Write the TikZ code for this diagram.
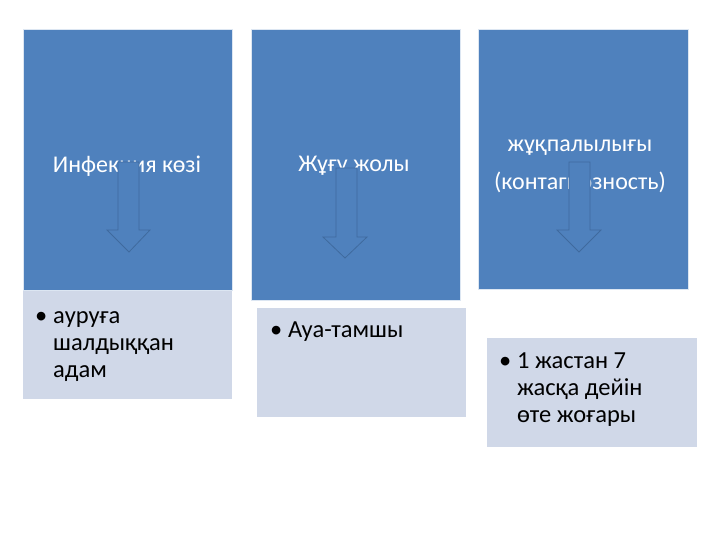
\documentclass[tikz,border=0pt]{standalone}
\usepackage{fontspec}
\setmainfont{Carlito}
\definecolor{boxblue}{HTML}{4F81BD}
\definecolor{boxlight}{HTML}{D0D8E8}
\definecolor{arrline}{HTML}{3F6A9E}
\newcommand{\bul}{\makebox[18pt][l]{•}}
\begin{document}
\begin{tikzpicture}[x=1pt,y=-1pt,
  head/.style={fill=boxblue,draw=white!80!boxblue,line width=0.6pt},
  sub/.style={fill=boxlight,draw=none},
  htext/.style={text=white,font=\fontsize{24}{38}\selectfont,align=center},
  btext/.style={anchor=north west,text=black,font=\fontsize{24.5}{27}\selectfont,inner sep=0pt},
  darrow/.style={fill=boxblue,draw=arrline,line width=0.8pt,line join=miter}]
\useasboundingbox (0,0) rectangle (720,540);
\fill[white] (0,0) rectangle (720,540);
% column 1
\draw[head] (23,29) rectangle (232,290);
\fill[sub] (23,291) rectangle (232,399);
\node[htext] (t1) at (127,166) {Инфекция көзі};
\draw[darrow] (118,162) -- (139,162) -- (139,230) -- (150,230) -- (129,252) -- (107,230) -- (118,230) -- cycle;
\node[btext] (b1) at (35,304) {\begin{tabular}{@{}l@{}l@{}}\bul & ауруға\\ & шалдыққан\\ & адам\end{tabular}};
% column 2
\draw[head] (251,29) rectangle (460,300);
\fill[sub] (257,308) rectangle (466,417);
\node[htext] (t2) at (354,166) {Жұғу жолы};
\draw[darrow] (336,168) -- (357,168) -- (357,237) -- (367,237) -- (345,258) -- (323,237) -- (336,237) -- cycle;
\node[btext] (b2) at (270,318) {\begin{tabular}{@{}l@{}l@{}}\bul & Ауа-тамшы\end{tabular}};
% column 3
\draw[head] (478,29) rectangle (688,289);
\fill[sub] (487,338) rectangle (697,447);
\node[htext] (t3) at (580,166) {жұқпалылығы\\(контагиозность)};
\draw[darrow] (569,162) -- (590,162) -- (590,230) -- (601,230) -- (579,252) -- (557,230) -- (569,230) -- cycle;
\node[btext] (b3) at (499,349) {\begin{tabular}{@{}l@{}l@{}}\bul & 1 жастан 7\\ & жасқа дейін\\ & өте жоғары\end{tabular}};
\end{tikzpicture}
\end{document}
